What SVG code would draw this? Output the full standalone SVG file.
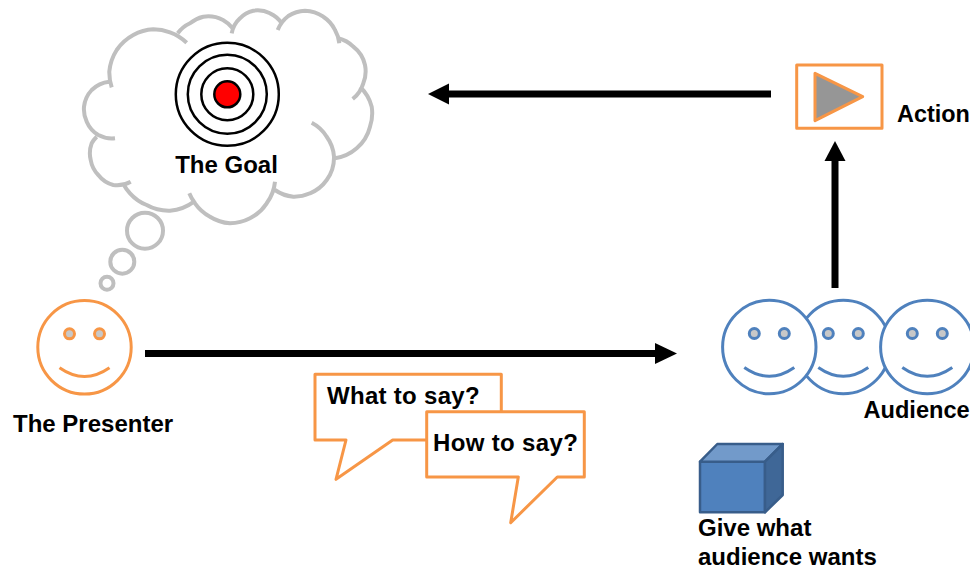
<svg xmlns="http://www.w3.org/2000/svg" width="970" height="570" viewBox="0 0 970 570">
<style>
text{font-family:"Liberation Sans",Arial,sans-serif;font-weight:700;font-size:24px;fill:#000}
.cloud{fill:none;stroke:#bfbfbf;stroke-width:4}
.ring{fill:#fff;stroke:#000;stroke-width:2.5}
.o{stroke:#f79646;stroke-width:3;stroke-linejoin:round}
.face{fill:#fff;stroke-width:3}
.eye{fill:#c8c8c8;stroke-width:3}
.mouth{fill:none;stroke-width:3}
.po{stroke:#f79646}
.bl{stroke:#4f81bd}
.conn{stroke:#000;stroke-width:7;fill:none}
</style>
<defs>
<g id="smile">
<circle class="face" r="46.7"/>
<circle class="eye" cx="-15" cy="-13.5" r="5"/>
<circle class="eye" cx="15" cy="-13.5" r="5"/>
<path class="mouth" d="M-25 20.5Q0 38 25 20.5"/>
</g>
</defs>
<rect width="970" height="570" fill="#fff"/>
<g id="connectors">
<path class="conn" d="M145 353.5H658"/>
<path d="M677 353.500L655 343V364Z"/>
<path class="conn" d="M771 94H447"/>
<path d="M428 94L449 83.500V104.500Z"/>
<path class="conn" d="M835 288V158"/>
<path d="M835 141L824.500 161H845.500Z"/>
</g>
<g id="goal-cloud">
<path class="cloud" d="M111.700 87.300A48 48 0 0 1 109.300 71.700A48 48 0 0 1 116.700 50A48 48 0 0 1 133.300 35A48 48 0 0 1 153.300 29.300A48 48 0 0 1 170 32.300A48 48 0 0 1 186.700 42.700
M177.700 33.300A32 32 0 0 1 190 23.300A32 32 0 0 1 203.300 16.700A32 32 0 0 1 223 20A32 32 0 0 1 232.700 28.300
M231.700 33.300A27 27 0 0 1 240 18.300A27 27 0 0 1 253.300 10.700A27 27 0 0 1 270 13.300A27 27 0 0 1 281.700 23.300
M277.700 30A33 33 0 0 1 288.300 16A33 33 0 0 1 305 10.700A33 33 0 0 1 323.300 16.700A33 33 0 0 1 335 30A33 33 0 0 1 339.300 43.300
M338.300 38.300A32 32 0 0 1 353.300 46.700A32 32 0 0 1 365 65A32 32 0 0 1 363.300 83.300A32 32 0 0 1 352.700 99
M360 86.700A42 42 0 0 1 371.700 106.700A42 42 0 0 1 370 126.700A42 42 0 0 1 356.700 148.300A42 42 0 0 1 335 158.300
M311.700 122.700A38 38 0 0 1 326.700 136.700A38 38 0 0 1 334 156.700A38 38 0 0 1 326.700 180A38 38 0 0 1 310 193.300A38 38 0 0 1 293.300 196.700A38 38 0 0 1 275 190
M275 181.700A44 44 0 0 1 266.700 203.300A44 44 0 0 1 250 218.300A44 44 0 0 1 230 223.300A44 44 0 0 1 210 216.700A44 44 0 0 1 195 203.300A44 44 0 0 1 189.300 193.300
M194 201.700A45 45 0 0 1 170 210.700A45 45 0 0 1 146.700 205A45 45 0 0 1 130 193.300A45 45 0 0 1 123.300 184
M130.700 181.700A28 28 0 0 1 113.300 185A28 28 0 0 1 98.300 175A28 28 0 0 1 90.700 160A28 28 0 0 1 91.700 143.300A28 28 0 0 1 96.700 136.700
M115 138.300A29 29 0 0 1 98.300 135A29 29 0 0 1 86.700 121.700A29 29 0 0 1 84 106.700A29 29 0 0 1 91.700 90A29 29 0 0 1 109.300 81.700"/>
<circle class="cloud" cx="145" cy="230.700" r="18"/>
<circle class="cloud" cx="122.300" cy="261.700" r="12"/>
<circle class="cloud" cx="107" cy="283.300" r="6.500"/>
</g>
<g id="target">
<circle class="ring" cx="227.300" cy="94.300" r="51.500"/>
<circle class="ring" cx="227.300" cy="94.300" r="39.500"/>
<circle class="ring" cx="227.300" cy="94.300" r="26"/>
<circle cx="227.300" cy="94.300" r="13" fill="#f00" stroke="#000" stroke-width="2.500"/>
<text x="226.500" y="172.500" text-anchor="middle">The Goal</text>
</g>
<g id="presenter">
<use href="#smile" x="84.500" y="347.300" class="po"/>
<text x="13" y="431.700">The Presenter</text>
</g>
<g id="bubble-what">
<path class="o" fill="#fff" d="M315 374.300H501.300V440H392.700L336 479.300L346 440H315Z"/>
<text x="327" y="404" letter-spacing="0.3">What to say?</text>
</g>
<g id="bubble-how">
<path class="o" fill="#fff" d="M426.700 411.700H584.300V477H557.300L510.700 522.700L518.300 477H426.700Z"/>
<text x="433" y="451.300" letter-spacing="0.35">How to say?</text>
</g>
<g id="action">
<rect class="o" x="796.700" y="65" width="85.300" height="63.300" fill="#fff"/>
<path class="o" fill="#969696" d="M815 73.300L862.700 96.700L815 120.700Z"/>
<text x="897" y="122.300" style="font-size:23.4px">Action</text>
</g>
<g id="audience">
<use href="#smile" x="843.300" y="347" class="bl"/>
<use href="#smile" x="769.300" y="347" class="bl"/>
<use href="#smile" x="927.300" y="347" class="bl"/>
<text x="863.500" y="418.300" style="font-size:23.6px">Audience</text>
</g>
<g id="give">
<path d="M700 461.700H765V512.300H700Z" fill="#4f81bd" stroke="#385d8a" stroke-width="2.500" stroke-linejoin="round"/>
<path d="M700 461.700L717.300 444H782.700L765 461.700Z" fill="#729aca" stroke="#385d8a" stroke-width="2.500" stroke-linejoin="round"/>
<path d="M765 461.700L782.700 444V495L765 512.300Z" fill="#3f6797" stroke="#385d8a" stroke-width="2.500" stroke-linejoin="round"/>
<text x="698" y="536">Give what</text>
<text x="698" y="565.300">audience wants</text>
</g>
</svg>
